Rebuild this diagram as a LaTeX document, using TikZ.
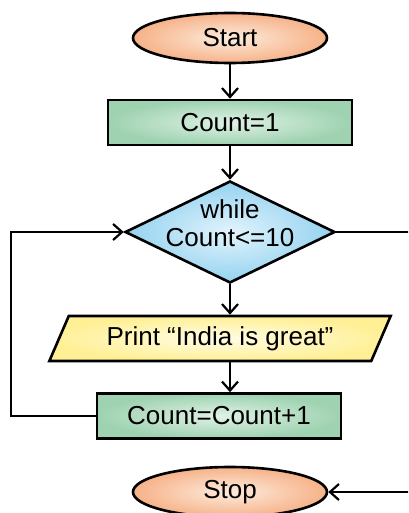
\documentclass[tikz,border=0pt]{standalone}
\usepackage{fontspec}
\setmainfont{Liberation Sans}
\usepackage{tikz}
\usetikzlibrary{shapes.geometric, arrows.meta}
\definecolor{orangein}{RGB}{253,236,222}
\definecolor{orangeout}{RGB}{246,178,136}
\definecolor{greenin}{RGB}{224,242,230}
\definecolor{greenout}{RGB}{158,210,176}
\definecolor{bluein}{RGB}{226,244,252}
\definecolor{blueout}{RGB}{148,210,240}
\definecolor{yellowin}{RGB}{255,252,228}
\definecolor{yellowout}{RGB}{255,240,150}
\tikzstyle{startstop} = [ellipse, minimum width=97pt, minimum height=25pt, inner sep=0pt, draw, line width=1.3pt, inner color=orangein, outer color=orangeout]
\tikzstyle{process} = [rectangle, minimum width=122pt, minimum height=22.5pt, draw, line width=1.3pt, inner color=greenin, outer color=greenout]
\tikzstyle{decision} = [diamond, aspect=2, minimum width=105pt, minimum height=51pt, inner sep=0pt, draw, line width=1.3pt, inner color=bluein, outer color=blueout]
\tikzstyle{io} = [trapezium, trapezium left angle=59, trapezium right angle=121, trapezium stretches=true, minimum width=171pt, minimum height=22.5pt, inner sep=0pt, draw, line width=1.3pt, inner color=yellowin, outer color=yellowout]
\tikzstyle{arrow} = [line width=1.1pt,->,>={Straight Barb[length=4.5pt,width=8pt]}]
\newcommand{\cond}[2]{\raisebox{-7pt}[0pt][0pt]{\def\arraystretch{0.9}\begin{tabular}[b]{@{}c@{}}#1\\#2\end{tabular}}}

\begin{document}
\begin{tikzpicture}[node distance=54pt, font=\fontsize{13}{15}\selectfont]
\useasboundingbox (0,0) rectangle (204pt,-256.5pt);
\clip (0,0) rectangle (204pt,-256.5pt);
\node (start) [startstop] at (115pt,-19pt) {Start};
\node (cnt) [process, below of=start, yshift=11.75pt] {Count=1};
\node (dec) [decision, below of=cnt, yshift=-0.75pt] {\cond{while}{Count<=10}};
\node (print) [io, below of=dec, xshift=-5pt, yshift=0.75pt] {Print “India is great”};
\node (incr) [process, below of=print, xshift=-0.5pt, yshift=15.25pt] {Count=Count+1};
\node (stop) [startstop, below of=incr, xshift=5.5pt, yshift=16pt] {Stop};

\draw [arrow] (start) -- (cnt);
\draw [arrow] (cnt) -- (dec);
\draw [arrow] (dec.south) -- (dec.south |- print.north);
\draw [arrow] (print.south -| dec.south) -- (dec.south |- incr.north);

% loop back and exit
\draw [arrow] (incr.west) -- ++(-42.5pt,0) |- (dec.west);
\draw [arrow] (dec.east) -- ++(40pt,0) |- (stop.east);
\end{tikzpicture}
\end{document}
